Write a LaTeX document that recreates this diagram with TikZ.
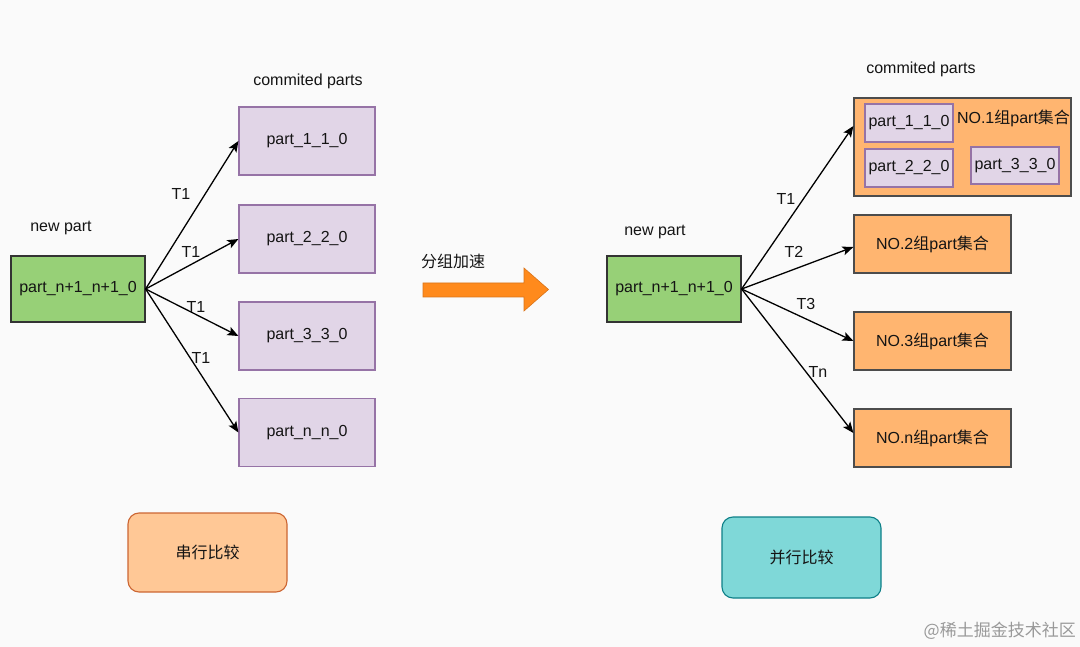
\documentclass[tikz,border=0pt]{standalone}
\usepackage{fontspec}
\setmainfont{Liberation Sans}
\newfontfamily\cjk{Noto Sans CJK SC}
\usetikzlibrary{arrows.meta}
\definecolor{bg}{HTML}{FAFAFA}
\definecolor{greenfill}{HTML}{97D077}
\definecolor{purplefill}{HTML}{E1D5E7}
\definecolor{purpleline}{HTML}{9673A6}
\definecolor{orangefill}{HTML}{FFB570}
\definecolor{peachfill}{HTML}{FFC896}
\definecolor{peachline}{HTML}{CC6633}
\definecolor{tealfill}{HTML}{7FD8D8}
\definecolor{tealline}{HTML}{0E8088}
\definecolor{bigarrow}{HTML}{FF8A1C}
\definecolor{bigarrowline}{HTML}{D9741A}
\definecolor{txt}{HTML}{141414}
\tikzset{
  x=1pt, y=-1pt,
  every node/.style={font=\fontsize{16}{19}\selectfont, text=txt, inner sep=0pt},
  newbox/.style={draw=black!80, fill=greenfill, line width=1.2pt, minimum width=134pt, minimum height=66pt},
  partbox/.style={draw=purpleline, fill=purplefill, line width=1.2pt, minimum width=136pt, minimum height=68pt},
  smallpart/.style={draw=purpleline, fill=purplefill, line width=1.2pt, minimum width=88pt, minimum height=38pt},
  groupbox/.style={draw=black!70, fill=orangefill, line width=1.2pt, minimum width=157pt, minimum height=58pt},
  conn/.style={draw=black, line width=1.3pt, -{Stealth[length=11pt,width=9pt,inset=2.5pt]}},
  plain/.style={},
}
\begin{document}
\begin{tikzpicture}
\fill[bg] (0,0) rectangle (1080,647);
\useasboundingbox (0,0) rectangle (1080,647);

% ---------- left: serial ----------
\node[plain] (np1) at (61,228) {new part};
\node[newbox] (g1) at (78,289) {part\_n+1\_n+1\_0};
\node[plain] (cp1) at (308,81) {commited parts};
\node[partbox] (a1) at (307,141) {part\_1\_1\_0};
\node[partbox] (a2) at (307,239) {part\_2\_2\_0};
\node[partbox] (a3) at (307,336) {part\_3\_3\_0};
\node[partbox] (a4) at (307,432.5) {part\_n\_n\_0};
\draw[conn] (g1.east) -- (a1.west);
\draw[conn] (g1.east) -- (a2.west);
\draw[conn] (g1.east) -- (a3.west);
\draw[conn] (g1.east) -- (a4.west);
\node[plain] (l1) at (181,194) {T1};
\node[plain] (l2) at (191,252) {T1};
\node[plain] (l3) at (196,307) {T1};
\node[plain] (l4) at (201,358) {T1};

% ---------- middle arrow ----------
\node[plain] (acc) at (453,261) {\cjk 分组加速};
\filldraw[fill=bigarrow, draw=bigarrowline, line width=0.6pt, line join=miter]
  (423,283) -- (524,283) -- (524,268) -- (548.5,289.5) -- (524,311) -- (524,297) -- (423,297) -- cycle;

% ---------- right: parallel ----------
\node[plain] (np2) at (655,232) {new part};
\node[newbox] (g2) at (674,289) {part\_n+1\_n+1\_0};
\node[plain] (cp2) at (921,69) {commited parts};
\node[draw=black!70, fill=orangefill, line width=1.2pt, minimum width=217pt, minimum height=98pt] (big) at (962.5,147) {};
\node[smallpart] (b1) at (909,123) {part\_1\_1\_0};
\node[smallpart] (b2) at (909,168) {part\_2\_2\_0};
\node[smallpart, minimum height=37pt] (b3) at (1015,165.5) {part\_3\_3\_0};
\node[plain] (no1) at (1013.5,118) {NO.1{\cjk 组}part{\cjk 集合}};
\node[groupbox] (n2) at (932.5,244) {NO.2{\cjk 组}part{\cjk 集合}};
\node[groupbox] (n3) at (932.5,341) {NO.3{\cjk 组}part{\cjk 集合}};
\node[groupbox] (nn) at (932.5,438) {NO.n{\cjk 组}part{\cjk 集合}};
\draw[conn] (g2.east) -- ([yshift=21pt]big.west);
\draw[conn] (g2.east) -- ([yshift=-3pt]n2.west);
\draw[conn] (g2.east) -- (n3.west);
\draw[conn] (g2.east) -- ([yshift=5pt]nn.west);
\node[plain] (r1) at (786,199) {T1};
\node[plain] (r2) at (794,252) {T2};
\node[plain] (r3) at (806,304) {T3};
\node[plain] (r4) at (818,372) {Tn};

% ---------- bottom ----------
\node[draw=peachline, fill=peachfill, line width=1.1pt, rounded corners=11pt, minimum width=159pt, minimum height=79pt] (serial) at (207.5,552.5) {\cjk 串行比较};
\node[draw=tealline, fill=tealfill, line width=1.1pt, rounded corners=11pt, minimum width=159pt, minimum height=81pt] (parallel) at (801.5,557.5) {\cjk 并行比较};

\node[plain, anchor=east, text=black!40, font=\fontsize{17}{20}\selectfont\cjk] (wm) at (1076,631) {@稀土掘金技术社区};
\end{tikzpicture}
\end{document}
